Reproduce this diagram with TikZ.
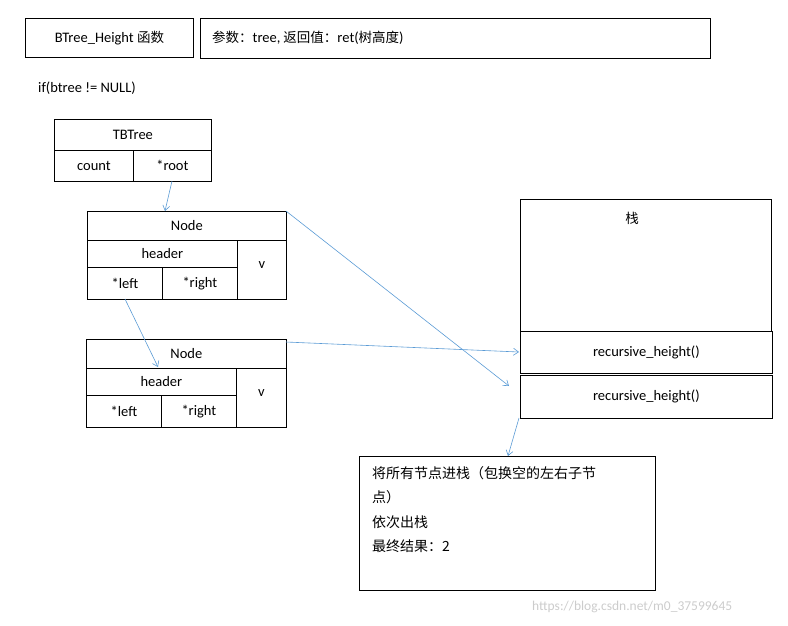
\documentclass[tikz,border=0pt]{standalone}
\usepackage{fontspec}
\usetikzlibrary{arrows.meta}
\setmainfont{Carlito}
\newfontfamily\cjk{Noto Sans CJK SC}
\definecolor{arc}{HTML}{5B9BD5}
\begin{document}
\begin{tikzpicture}[x=1pt,y=-1pt,
 bx/.style={draw,line width=0.8pt,inner sep=0pt,anchor=north west,font=\fontsize{14.5}{16}\selectfont},
 ar/.style={draw=arc,line width=0.6pt,-{Straight Barb[length=5pt,width=7pt]}},
 txt/.style={inner sep=0pt,font=\fontsize{14.5}{16}\selectfont}]
\useasboundingbox (0,0) rectangle (788,625);
\newcommand{\bxx}[6]{\node[bx,minimum width=#4-#2,minimum height=#5-#3] (#1) at (#2,#3) {#6};}
\bxx{t1}{25}{18}{193}{57}{BTree\_Height {\cjk\fontsize{13.5}{16}\selectfont 函数}}
\bxx{t2}{200}{18}{710}{58}{}
\node[txt,anchor=west] (t2t) at (212,38) {{\cjk\fontsize{13.5}{16}\selectfont 参数：}tree,{\cjk\fontsize{13.5}{16}\selectfont ~返回值：}ret({\cjk\fontsize{13.5}{16}\selectfont 树高度})};
\node[txt,anchor=west] (if) at (38,88) {if(btree != NULL)};
\bxx{tb}{54}{119}{211}{150}{TBTree}
\bxx{cnt}{54}{150}{133}{181}{count}
\bxx{root}{133}{150}{211}{181}{*root}
\bxx{n1}{87}{211}{286}{240}{\raisebox{-3pt}{Node}}
\bxx{h1}{87}{240}{237}{267}{\raisebox{-4pt}{header}}
\bxx{v1}{237}{240}{286}{299}{\raisebox{10pt}{v}}
\bxx{l1}{87}{267}{162}{299}{*left}
\bxx{r1}{162}{267}{237}{299}{*right}
\bxx{n2}{86}{339}{286}{368}{\raisebox{-3pt}{Node}}
\bxx{h2}{86}{368}{236}{395}{\raisebox{-4pt}{header}}
\bxx{v2}{236}{368}{286}{427}{\raisebox{10pt}{v}}
\bxx{l2}{86}{395}{161}{427}{*left}
\bxx{r2}{161}{395}{236}{427}{*right}
\bxx{st}{520}{199}{771}{331}{}
\node[txt,font=\cjk\fontsize{13.5}{16}\selectfont] (stl) at (632,218) {栈};
\bxx{rc1}{520}{331}{772}{373}{recursive\_height()}
\bxx{rc2}{520}{375}{772}{418}{recursive\_height()}
\bxx{tx}{359}{456}{655}{590}{}
\node[txt,anchor=north west,align=left,font=\cjk\fontsize{14}{24.5}\selectfont] (txt) at (372,466) {将所有节点进栈（包换空的左右子节\\点）\\依次出栈\\最终结果：2};
\node[txt,anchor=west,text=black!20,font=\fontsize{13.5}{15}\selectfont] (wm) at (532,607) {https://blog.csdn.net/m0\_37599645};
\coordinate (a1) at (172,181); \coordinate (b1) at (165,211);
\coordinate (a2) at (125,299); \coordinate (b2) at (158,367);
\coordinate (a3) at (286,211); \coordinate (b3) at (509,386);
\coordinate (a4) at (286,342); \coordinate (b4) at (519,352);
\coordinate (a5) at (519,418); \coordinate (b5) at (508,456);
\draw[ar] (a1) -- (b1);
\draw[ar] (a2) -- (b2);
\draw[ar] (a3) -- (b3);
\draw[ar] (a4) -- (b4);
\draw[ar] (a5) -- (b5);
\end{tikzpicture}
\end{document}
